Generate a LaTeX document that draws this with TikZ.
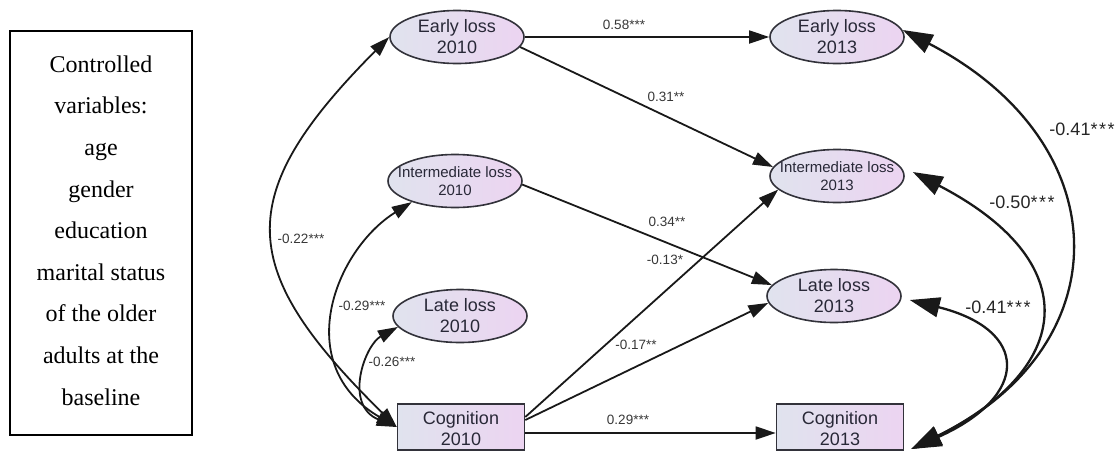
\documentclass[tikz,border=0pt]{standalone}
\usepackage{fontspec}
\setmainfont{Liberation Serif}
\newfontfamily\arialf{Liberation Sans}
\usetikzlibrary{shapes.geometric,arrows.meta,calc}
\definecolor{gl}{RGB}{224,227,238}
\definecolor{gr}{RGB}{236,212,241}
\definecolor{bd}{RGB}{50,50,58}
\definecolor{tx}{RGB}{40,40,55}
\definecolor{lb}{RGB}{55,55,55}
\newcommand{\sthree}{*\kern1.5pt*\kern1.5pt*}
\begin{document}
\begin{tikzpicture}[x=1pt,y=-1pt,
  ell/.style={ellipse, draw=bd, line width=1.6pt, minimum width=134pt, minimum height=53pt, inner sep=0pt, left color=gl, right color=gr},
  rbox/.style={rectangle, draw=bd, line width=1.6pt, minimum width=127pt, minimum height=46pt, inner sep=0pt, left color=gl, right color=gr},
  nt/.style={text=tx, align=center, inner sep=0pt, font=\arialf\fontsize{18}{21}\selectfont},
  ntsmall/.style={text=tx, align=center, inner sep=0pt, font=\arialf\fontsize{15}{18}\selectfont},
  el/.style={text=lb, inner sep=1pt, font=\arialf\fontsize{13.5}{13.5}\selectfont},
  elbig/.style={text=black!85, inner sep=1pt, font=\arialf\fontsize{18}{18}\selectfont},
  arr/.style={-{Triangle[length=20pt,width=13pt]}, line width=1.8pt, draw=black!90},
  dbl/.style={{Triangle[length=20pt,width=13pt]}-{Triangle[length=20pt,width=13pt]}, line width=1.8pt, draw=black!90},
  bigdbl/.style={{Triangle[length=30pt,width=20pt]}-{Triangle[length=30pt,width=20pt]}, line width=2.3pt, draw=black!90},
]
\useasboundingbox (0,0) rectangle (1120,451);
\clip (0,0) rectangle (1120,451);

% left box
\node[draw=black, line width=1.4pt, minimum width=182pt, minimum height=404pt, inner sep=0pt] (ctrl) at (101,233) {};
\node[align=center, inner sep=0pt, font=\fontsize{24}{41.6}\selectfont] (ctrltext) at (101,230.5)
  {Controlled\\variables:\\age\\gender\\education\\marital status\\of the older\\adults at the\\baseline};

% nodes
\node[ell] (e10) at (457,37) {};
\node[nt] (e10t) at (e10) {Early loss\\2010};
\node[ell] (e13) at (837,37) {};
\node[nt] (e13t) at (e13) {Early loss\\2013};
\node[ell] (i10) at (455,181) {};
\node[ntsmall] (i10t) at (i10) {Intermediate loss\\2010};
\node[ell] (i13) at (837,176) {};
\node[ntsmall] (i13t) at (i13) {Intermediate loss\\2013};
\node[ell] (l10) at (460,316) {};
\node[nt] (l10t) at (l10) {Late loss\\2010};
\node[ell] (l13) at (834,296) {};
\node[nt] (l13t) at (l13) {Late loss\\2013};
\node[rbox] (c10) at (461,427) {};
\node[nt] (c10t) at (461,429) {Cognition\\2010};
\node[rbox] (c13) at (840,427) {};
\node[nt] (c13t) at (840,429) {Cognition\\2013};

% regression paths
\draw[arr] (e10.east) -- (e13.west);
\draw[arr] (e10.-9) -- (i13.172);
\draw[arr] (i10.-3) -- (l13.170);
\draw[arr] ($(c10.east)+(0,-10)$) -- (i13.193);
\draw[arr] ($(c10.east)+(0,-7)$) -- (l13.186);
\draw[arr] ($(c10.east)+(0,6)$) -- ($(c13.west)+(0,6)$);

% covariances left
\draw[dbl] (e10.west) .. controls (230,197) and (237,270) .. (c10.west);
\draw[dbl] (i10.206) .. controls (335,250) and (290,365) .. (c10.west);
\draw[dbl] (l10.190) .. controls (365,345) and (343,405) .. (c10.west);

% covariances right
\coordinate (cb) at ($(c13.east)+(7,22)$);
\draw[bigdbl] ($(e13.east)+(-2,-7)$) .. controls (1120,143) and (1122,346) .. (cb);
\draw[bigdbl] ($(i13.east)+(8,-4)$) .. controls (1086,262) and (1074,368) .. (cb);
\draw[bigdbl] ($(l13.east)+(8,4)$) .. controls (1030,330) and (1030,396) .. (cb);

% labels
\node[el] (p1) at (624,25) {0.58***};
\node[el] (p2) at (666,97) {0.31**};
\node[el] (p3) at (667,222) {0.34**};
\node[el] (p4) at (665,260) {-0.13*};
\node[el] (p5) at (636,345) {-0.17**};
\node[el] (p6) at (628,420) {0.29***};
\node[el] (p7) at (301,239) {-0.22***};
\node[el] (p8) at (362,306) {-0.29***};
\node[el] (p9) at (392,362) {-0.26***};
\node[elbig] (p10) at (1082,129) {-0.41\sthree};
\node[elbig] (p11) at (1022,202) {-0.50\sthree};
\node[elbig] (p12) at (998,307) {-0.41\sthree};
\end{tikzpicture}
\end{document}
